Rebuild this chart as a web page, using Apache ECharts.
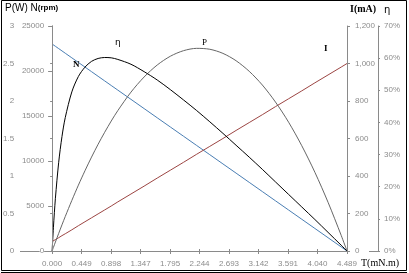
<!DOCTYPE html>
<html>
<head>
<meta charset="utf-8">
<script src="https://cdn.jsdelivr.net/npm/echarts@6/dist/echarts.min.js"></script>
<style>
html,body{margin:0;padding:0;background:#fff;}
#c{width:409px;height:273px;}
</style>
</head>
<body>
<div id="c"></div>
<script>
// Torque (mN.m)
var torque = [0, 0.02, 0.05, 0.1, 0.15, 0.2, 0.3, 0.4, 0.5, 0.6, 0.7, 0.8, 0.9, 1.0, 1.2, 1.4, 1.6, 1.8, 2.0, 2.2, 2.4, 2.6, 2.8, 3.0, 3.2, 3.4, 3.6, 3.8, 4.0, 4.2, 4.4, 4.4886];
// Speed N (rpm)
var speed = [23000, 22898, 22744, 22488, 22231, 21975, 21463, 20950, 20438, 19926, 19413, 18901, 18388, 17876, 16851, 15826, 14801, 13777, 12752, 11727, 10702, 9677, 8653, 7628, 6603, 5578, 4553, 3528, 2504, 1479, 454, 0];
// Current I (mA)
var current = [50, 54, 61, 71, 82, 92, 113, 135, 156, 177, 198, 219, 240, 262, 304, 346, 389, 431, 473, 516, 558, 600, 643, 685, 727, 770, 812, 854, 897, 939, 981, 1000];
// Output power P (W)
var power = [0, 0.048, 0.119, 0.235, 0.349, 0.460, 0.674, 0.878, 1.070, 1.252, 1.423, 1.583, 1.733, 1.872, 2.118, 2.320, 2.480, 2.597, 2.671, 2.702, 2.690, 2.635, 2.537, 2.396, 2.213, 1.986, 1.717, 1.404, 1.049, 0.650, 0.209, 0];
// Efficiency (fraction)
var efficiency = [0, 0.074, 0.164, 0.276, 0.356, 0.415, 0.495, 0.543, 0.572, 0.590, 0.599, 0.602, 0.601, 0.596, 0.581, 0.558, 0.532, 0.502, 0.470, 0.437, 0.402, 0.366, 0.329, 0.292, 0.254, 0.215, 0.176, 0.137, 0.098, 0.058, 0.018, 0];

// Tick labels
var xTickLabels = ['0.000', '0.449', '0.898', '1.347', '1.795', '2.244', '2.693', '3.142', '3.591', '4.040', '4.489'];
var pTickLabels = ['0', '0.5', '1', '1.5', '2', '2.5', '3'];
var nTickLabels = ['0', '5000', '10000', '15000', '20000', '25000'];
var iTickLabels = ['0', '200', '400', '600', '800', '1,000', '1,200'];
var effTickLabels = ['0%', '10%', '20%', '30%', '40%', '50%', '60%', '70%'];

var tStall = 4.4886;
var xStep = tStall / 10;

function pairs(ys) { return torque.map(function (t, i) { return [t, ys[i]]; }); }

var axisGray = '#8a8a8a';
var labelGray = '#8c8c8c';
var lblFont = 'Liberation Sans';

function yAx(opt) {
  return Object.assign({
    type: 'value',
    splitLine: { show: false },
    axisLine: { show: true, lineStyle: { color: axisGray, width: 1 } },
    axisTick: { show: true, inside: false, length: 3, lineStyle: { color: axisGray } },
    axisLabel: { fontSize: 8, color: labelGray, fontFamily: lblFont, margin: 8 },
    z: 5
  }, opt);
}

var chart = echarts.init(document.getElementById('c'), null, { renderer: 'canvas' });
chart.setOption({
  animation: false,
  backgroundColor: '#fff',
  grid: { left: 52, right: 62, top: 26, bottom: 22, containLabel: false },
  xAxis: [{
    type: 'value', min: 0, max: tStall, interval: xStep,
    splitLine: { show: false },
    axisLine: { show: true, onZero: false, lineStyle: { color: axisGray } },
    axisTick: { show: true, length: 3, lineStyle: { color: axisGray } },
    axisLabel: {
      fontSize: 8, color: labelGray, fontFamily: lblFont, margin: 9, showMaxLabel: true, showMinLabel: true,
      formatter: function (v) { return xTickLabels[Math.round(v / xStep)]; }
    }
  }, {
    type: 'value', min: 0, max: tStall, interval: xStep, position: 'bottom',
    splitLine: { show: false },
    axisLine: { show: false },
    axisTick: { show: true, inside: true, length: 2, lineStyle: { color: axisGray } },
    axisLabel: { show: false }
  }],
  yAxis: [
    yAx({ position: 'left', offset: 0, min: 0, max: 25000, interval: 5000,
      axisTick: { show: true, length: 4, lineStyle: { color: axisGray } },
      axisLabel: { fontSize: 8, color: labelGray, fontFamily: lblFont, margin: 8, backgroundColor: '#fff',
        formatter: function (v) { return nTickLabels[Math.round(v / 5000)]; } } }),
    yAx({ position: 'left', offset: 30, min: 0, max: 3, interval: 0.5,
      axisTick: { show: true, length: 2, lineStyle: { color: axisGray } },
      axisLabel: { fontSize: 8, color: labelGray, fontFamily: lblFont, margin: 8,
        formatter: function (v) { return pTickLabels[Math.round(v / 0.5)]; } } }),
    yAx({ position: 'right', offset: 0, min: 0, max: 1200, interval: 200,
      axisLabel: { fontSize: 8, color: labelGray, fontFamily: lblFont, margin: 8, backgroundColor: '#fff',
        formatter: function (v) { return iTickLabels[Math.round(v / 200)]; } } }),
    yAx({ position: 'right', offset: 31, min: 0, max: 0.7, interval: 0.1,
      axisTick: { show: true, length: 2, lineStyle: { color: axisGray } },
      axisLabel: { fontSize: 8, color: labelGray, fontFamily: lblFont, margin: 6,
        formatter: function (v) { return effTickLabels[Math.round(v / 0.1)]; } } })
  ],
  series: [
    { name: 'N', type: 'line', xAxisIndex: 0, yAxisIndex: 0, data: pairs(speed), showSymbol: false,
      lineStyle: { color: '#4a7eb3', width: 1 }, z: 3 },
    { name: 'I', type: 'line', xAxisIndex: 0, yAxisIndex: 2, data: pairs(current), showSymbol: false,
      lineStyle: { color: '#9c4543', width: 1 }, z: 3 },
    { name: 'P', type: 'line', xAxisIndex: 0, yAxisIndex: 1, data: pairs(power), showSymbol: false, smooth: 0.3,
      lineStyle: { color: '#666666', width: 1 }, z: 3 },
    { name: 'η', type: 'line', xAxisIndex: 0, yAxisIndex: 3, data: pairs(efficiency), showSymbol: false, smooth: 0.3,
      lineStyle: { color: '#000', width: 1 }, z: 4 }
  ],
  graphic: [
    { type: 'rect', z: 0, shape: { x: 1.5, y: 0.5, width: 405, height: 270 }, style: { fill: 'none', stroke: '#000', lineWidth: 1 } },
    { type: 'line', z: 0, shape: { x1: 1, y1: 272.5, x2: 407, y2: 272.5 }, style: { stroke: '#000', lineWidth: 1 } },
    { type: 'line', z: 1, shape: { x1: 20, y1: 251.5, x2: 52, y2: 251.5 }, style: { stroke: axisGray, lineWidth: 1 } },
    { type: 'line', z: 1, shape: { x1: 369, y1: 251.5, x2: 378, y2: 251.5 }, style: { stroke: axisGray, lineWidth: 1 } },
    { type: 'text', z: 10, left: 5, top: 3, style: {
      text: '{a|P(W) N}{b|(rpm)}',
      rich: { a: { fontSize: 10, fontFamily: 'Liberation Sans', fill: '#000' }, b: { fontSize: 8, fontWeight: 'bold', fontFamily: 'Liberation Sans', fill: '#000' } } } },
    { type: 'text', z: 10, left: 350, top: 4, style: { text: 'I(mA)', fontSize: 10, fontWeight: 'bold', fontFamily: 'Liberation Serif', fill: '#000' } },
    { type: 'text', z: 10, left: 384, top: 5, style: { text: 'η', fontSize: 10, fontFamily: 'DejaVu Sans', fill: '#000' } },
    { type: 'text', z: 10, left: 361, top: 258, style: { text: 'T(mN.m)', fontSize: 10, fontFamily: 'Liberation Serif', fill: '#000' } },
    { type: 'text', z: 10, left: 73, top: 60, style: { text: 'N', fontSize: 9, fontWeight: 'bold', fontFamily: 'Liberation Serif', fill: '#000' } },
    { type: 'text', z: 10, left: 115, top: 38, style: { text: 'η', fontSize: 9, fontFamily: 'DejaVu Sans', fill: '#000' } },
    { type: 'text', z: 10, left: 202, top: 38, style: { text: 'P', fontSize: 9, fontFamily: 'Liberation Serif', fill: '#000' } },
    { type: 'text', z: 10, left: 324, top: 44, style: { text: 'I', fontSize: 9, fontWeight: 'bold', fontFamily: 'Liberation Serif', fill: '#000' } }
  ]
});
</script>
</body>
</html>
